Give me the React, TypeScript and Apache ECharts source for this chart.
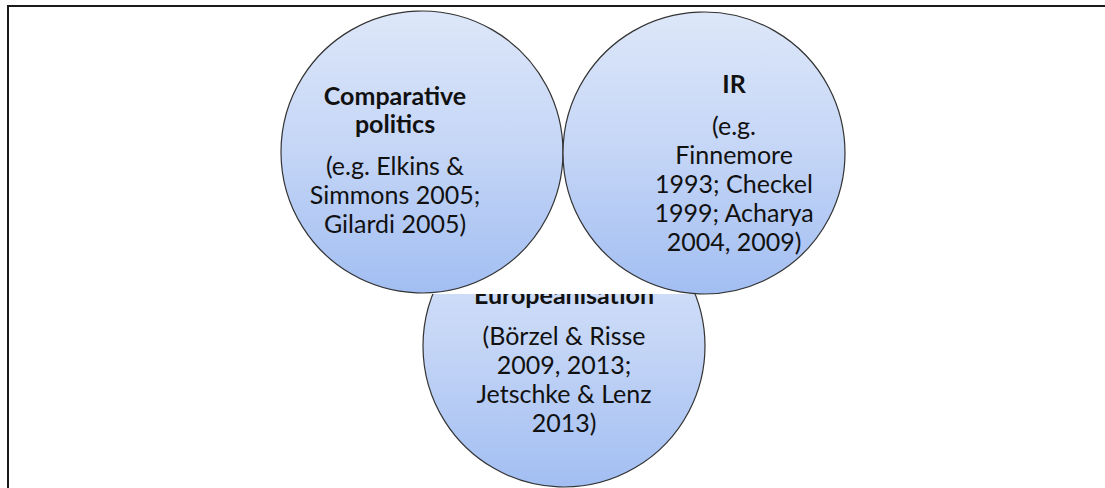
import React, { useEffect, useRef } from "react";
import * as echarts from "echarts";

// Content of the three fields
const fieldNames: string[] = ["Comparative politics", "IR", "Europeanisation"];
const headingLines: string[][] = [["Comparative", "politics"], ["IR"], ["Europeanisation"]];
const referenceLines: string[][] = [
  ["(e.g. Elkins &", "Simmons 2005;", "Gilardi 2005)"],
  ["(e.g.", "Finnemore", "1993; Checkel", "1999; Acharya", "2004, 2009)"],
  ["(Börzel & Risse", "2009, 2013;", "Jetschke & Lenz", "2013)"],
];

// Layout (pixel-like units on hidden axes)
const centerX: number[] = [422, 704, 564];
const centerY: number[] = [152, 153, 346];
const labelDx: number[] = [-27, 30, 0];
const labelDy: number[] = [7, 9, 12];
const DIAMETER = 282;
const CUT_Y = 294;

const FONT = "Lato, 'Open Sans', sans-serif";

function buildLabel(i: number) {
  const h = headingLines[i].map((t) => `{h|${t}}`).join("\n");
  const b = referenceLines[i].map((t) => `{b|${t}}`).join("\n");
  return {
    show: true,
    position: "inside",
    offset: [labelDx[i], labelDy[i]],
    formatter: `${h}\n{g| }\n${b}`,
    align: "center",
    rich: {
      h: { fontFamily: FONT, fontWeight: "bold", fontSize: 25, lineHeight: 28, color: "#111", align: "center" },
      b: { fontFamily: FONT, fontSize: 25, lineHeight: 29, color: "#111", align: "center" },
      g: { fontSize: 4, lineHeight: 13 },
    },
  };
}

const circleStyle = () => ({
  color: new echarts.graphic.LinearGradient(0, 0, 0, 1, [
    { offset: 0, color: "#dde7f9" },
    { offset: 0.5, color: "#c4d5f6" },
    { offset: 1, color: "#a2bef2" },
  ]),
  borderColor: "#333333",
  borderWidth: 1.2,
  opacity: 1,
});

export default function App() {
  const ref = useRef<HTMLDivElement>(null);
  useEffect(() => {
    if (!ref.current) return;
    const chart = echarts.init(ref.current, null, { renderer: "svg" });
    const topIdx = [0, 1];
    const bottomIdx = [2];
    chart.setOption({
      animation: false,
      backgroundColor: "#ffffff",
      grid: { left: 0, right: 0, top: 0, bottom: 0 },
      xAxis: { type: "value", min: 0, max: 1105, show: false },
      yAxis: { type: "value", min: 0, max: 488, inverse: true, show: false },
      graphic: [
        {
          type: "rect",
          z: 10,
          silent: true,
          shape: { x: 8, y: 6, width: 1300, height: 700 },
          style: { fill: "none", stroke: "#1a1a1a", lineWidth: 2 },
        },
      ],
      series: [
        {
          type: "scatter",
          name: fieldNames[2],
          z: 1,
          silent: true,
          symbol: "circle",
          symbolSize: DIAMETER,
          itemStyle: circleStyle(),
          emphasis: { disabled: true },
          data: bottomIdx.map((i) => ({ name: fieldNames[i], value: [centerX[i], centerY[i]], label: buildLabel(i) })),
        },
        {
          type: "scatter",
          z: 2,
          silent: true,
          symbol: "rect",
          symbolSize: [300, 110],
          itemStyle: { color: "#ffffff", opacity: 1 },
          emphasis: { disabled: true },
          data: [[centerX[2], CUT_Y - 55]],
        },
        {
          type: "scatter",
          name: "top",
          z: 3,
          silent: true,
          symbol: "circle",
          symbolSize: DIAMETER,
          itemStyle: circleStyle(),
          emphasis: { disabled: true },
          data: topIdx.map((i) => ({ name: fieldNames[i], value: [centerX[i], centerY[i]], label: buildLabel(i) })),
        },
      ],
    });
    return () => chart.dispose();
  }, []);
  return (
    <div
      ref={ref}
      style={{ position: "fixed", left: 0, top: 0, width: 1105, height: 488 }}
    />
  );
}
